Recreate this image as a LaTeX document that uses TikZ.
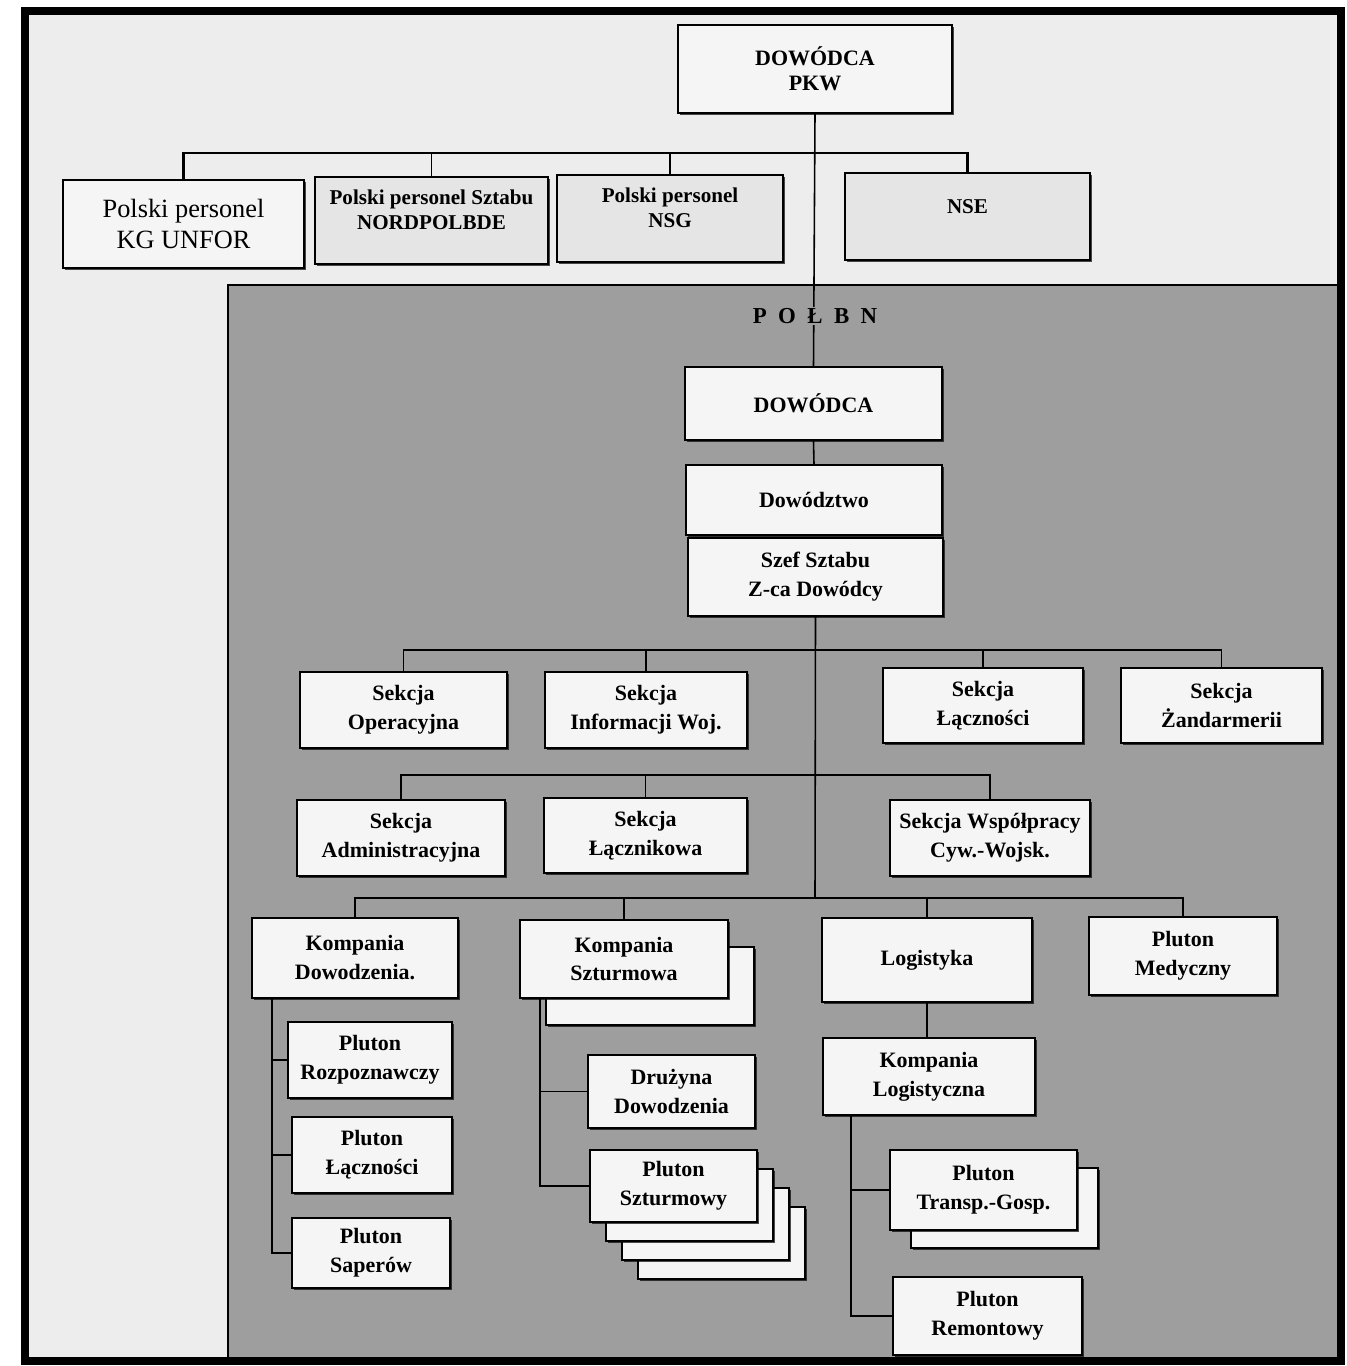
\documentclass[tikz,border=0pt]{standalone}
\usepackage{fontspec}
\setmainfont{Liberation Serif}
\usetikzlibrary{positioning,shadows}

\definecolor{paper}{gray}{0.93}
\definecolor{polbn}{gray}{0.62}
\definecolor{boxfill}{gray}{0.96}
\definecolor{topfill}{gray}{0.9}

\tikzset{
    wh/.style 2 args={minimum width=#1*0.02cm, minimum height=#2*0.02cm},
    unit/.style={draw=black, line width=1.3pt, fill=boxfill, align=center, inner sep=1pt,
        font=\fontsize{12.5}{16.5}\selectfont\bfseries,
        drop shadow={shadow xshift=1.2pt, shadow yshift=-1.2pt, fill=black, opacity=0.7}},
    topunit/.style={unit, fill=topfill},
    toptext/.style={align=center, font=\fontsize{12}{14.5}\selectfont\bfseries},
    conn/.style={line width=0.9pt},
}

\begin{document}
\begin{tikzpicture}[x=0.02cm, y=-0.02cm]
    % Frame
    \useasboundingbox (0,0) rectangle (1346,1366);
    \fill[white] (0,0) rectangle (1346,1366);
    \fill[paper] (25,11) rectangle (1341,1361);
    \fill[polbn] (228,285) rectangle (1341,1361);
    \draw[line width=1.2pt] (228,1361) |- (1341,285);

    % Top level
    \node[unit, wh={274}{88}, font=\fontsize{12.5}{14.5}\selectfont\bfseries] (pkw) at (815,69) {DOWÓDCA\\PKW};
    \node[unit, wh={241}{88}, font=\fontsize{15}{17.5}\selectfont] (kg) at (183.5,224) {Polski personel\\KG UNFOR};
    \node[topunit, wh={233}{87}] (nordpol) at (431.5,220.5) {};
    \node[toptext] (nordpol-t) at (431.5,210) {Polski personel Sztabu\\NORDPOLBDE};
    \node[topunit, wh={226}{87}] (nsg) at (670,218.5) {};
    \node[toptext] (nsg-t) at (670,208) {Polski personel\\NSG};
    \node[topunit, wh={245}{87}] (nse) at (967.5,216.5) {};
    \node[toptext] (nse-t) at (967.5,207) {NSE};

    % POLBN command
    \node[unit, wh={257}{73}] (dow) at (813.5,403.5) {DOWÓDCA};
    \node[unit, wh={256}{70}] (dwz) at (814,500) {Dowództwo};
    \node[unit, wh={255}{78}] (szef) at (815.5,577) {Szef Sztabu\\Z-ca Dowódcy};

    % Sections
    \node[unit, wh={207}{76}] (sop) at (403.5,710) {Sekcja\\Operacyjna};
    \node[unit, wh={202}{76}] (sinf) at (646,710) {Sekcja\\Informacji Woj.};
    \node[unit, wh={200}{75}] (slacz) at (983,705.5) {Sekcja\\Łączności};
    \node[unit, wh={201}{75}] (szand) at (1221.5,705.5) {Sekcja\\Żandarmerii};
    \node[unit, wh={208}{76}] (sadm) at (401,838) {Sekcja\\Administracyjna};
    \node[unit, wh={203}{75}] (slk) at (645.5,835.5) {Sekcja\\Łącznikowa};
    \node[unit, wh={200}{76}] (swsp) at (990,838) {Sekcja Współpracy\\Cyw.-Wojsk.};

    % Companies
    \node[unit, wh={206}{80}] (kdow) at (355,958) {Kompania\\Dowodzenia.};
    \node[unit, wh={208}{78}] (kszt-c) at (650,986) {};
    \node[unit, wh={208}{78}] (kszt) at (624,959) {Kompania\\Szturmowa};
    \node[unit, wh={210}{84}] (logi) at (927,960) {Logistyka};
    \node[unit, wh={188}{78}] (pmed) at (1183,956) {Pluton\\Medyczny};

    % Platoons
    \node[unit, wh={164}{76}] (prozp) at (370,1060) {Pluton\\Rozpoznawczy};
    \node[unit, wh={160}{76}] (placz) at (372,1155) {Pluton\\Łączności};
    \node[unit, wh={158}{70}] (psap) at (371,1253) {Pluton\\Saperów};
    \node[unit, wh={167}{73}] (ddow) at (671.5,1091.5) {Drużyna\\Dowodzenia};
    \foreach \k in {3,2,1}
        \node[unit, wh={167}{72}] (pszt-c\k) at ({673.5+16*\k},{1186+19*\k}) {};
    \node[unit, wh={167}{72}] (pszt) at (673.5,1186) {Pluton\\Szturmowy};
    \node[unit, wh={212}{77}] (klog) at (929,1076.5) {Kompania\\Logistyczna};
    \node[unit, wh={187}{80}] (ptr-c) at (1004.5,1208) {};
    \node[unit, wh={187}{80}] (ptr) at (983.5,1190) {Pluton\\Transp.-Gosp.};
    \node[unit, wh={189}{78}] (prem) at (987.5,1316) {Pluton\\Remontowy};

    % Lines
    \coordinate (topbus) at (815,153);
    \coordinate (bus1) at (815,650);
    \coordinate (bus2) at (815,775);
    \coordinate (bus3) at (815,898);
    \draw[conn, line width=1.4pt] (kg.north) |- (topbus) -| (nse.north);
    \draw[conn] (nordpol.north) -- (nordpol.north |- topbus);
    \draw[conn] (nsg.north) -- (nsg.north |- topbus);
    \draw[conn] (pkw.south) -- (dow.north);
    \draw[conn] (dow.south) -- (dwz.north);
    \draw[conn] (szef.south) -- (bus3);

    \draw[conn] (sop.north) |- (bus1) -| (szand.north);
    \draw[conn] (sinf.north) -- (sinf.north |- bus1);
    \draw[conn] (slacz.north) -- (slacz.north |- bus1);
    \draw[conn] (sadm.north) |- (bus2) -| (swsp.north);
    \draw[conn] (slk.north) -- (slk.north |- bus2);
    \draw[conn] (kdow.north) |- (bus3) -| (pmed.north);
    \draw[conn] (kszt.north) -- (kszt.north |- bus3);
    \draw[conn] (logi.north) -- (logi.north |- bus3);

    \coordinate (kdow-s) at (272,998);
    \draw[conn] (kdow-s) |- (prozp.west);
    \draw[conn] (kdow-s) |- (placz.west);
    \draw[conn] (kdow-s) |- (psap.west);
    \coordinate (kszt-s) at (540,998);
    \draw[conn] (kszt-s) |- (ddow.west);
    \draw[conn] (kszt-s) |- (pszt.west);
    \draw[conn] (logi.south) -- (logi.south |- klog.north);
    \coordinate (klog-s) at (851,1115);
    \draw[conn] (klog-s) |- (ptr.west);
    \draw[conn] (klog-s) |- (prem.west);

    % Title
    \node[fill=polbn, inner sep=1pt, font=\fontsize{13}{15}\selectfont\bfseries] (title) at (815,316)
        {P\enspace O\enspace Ł\enspace B\enspace N};

    % Border
    \draw[line width=5pt] (25,11) rectangle (1341,1361);
\end{tikzpicture}
\end{document}
